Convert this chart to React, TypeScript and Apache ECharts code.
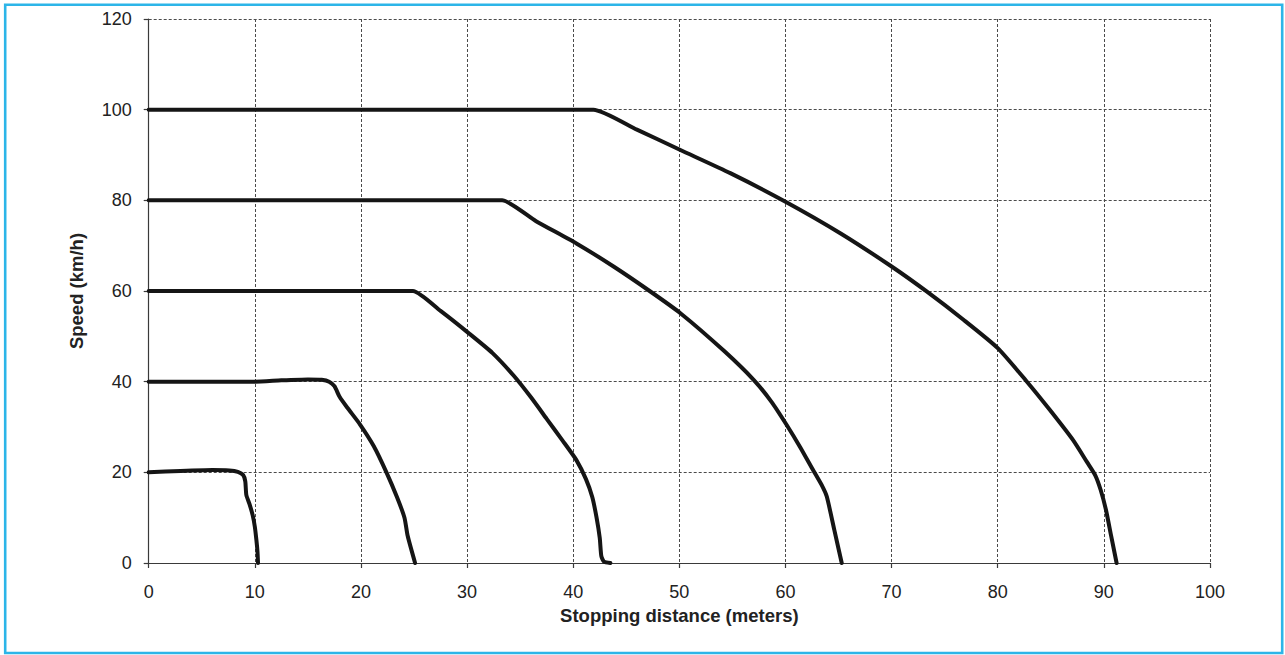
import React, { useEffect, useRef } from "react";
import * as echarts from "echarts";

const xTicks = { min: 0, max: 100, interval: 10 };
const yTicks = { min: 0, max: 120, interval: 20 };

const curve20: [number, number][] = [
  [0, 20], [3, 20.3], [6, 20.5], [7.6, 20.4], [8.4, 20.1], [8.9, 19.4], [9.1, 18],
  [9.2, 15], [9.5, 13], [9.8, 10.5], [10.0, 8], [10.15, 5], [10.25, 2.5], [10.3, 0],
];
const curve40: [number, number][] = [
  [0, 40], [10, 40], [12.5, 40.3], [15, 40.5], [16.3, 40.4], [17.0, 40.0], [17.5, 39.0],
  [18.0, 36.6], [18.7, 34.3], [19.9, 30.6], [21.2, 25.8], [22.4, 20.0],
  [23.4, 14.5], [24.1, 10], [24.4, 6], [25.1, 0],
];
const curve60: [number, number][] = [
  [0, 60], [24.2, 60], [24.9, 60], [27.5, 55.6], [30.2, 50.6], [32.4, 46.3], [34.4, 41.3],
  [36, 36.6], [37.5, 31.8], [39, 27.0], [40.3, 22.7], [41.2, 18.5], [41.8, 14.5],
  [42.2, 10], [42.5, 5.5], [42.65, 1.5], [42.9, 0.3], [43.5, 0],
];
const curve80: [number, number][] = [
  [0, 80], [32.6, 80], [33.3, 80], [36.5, 75.4], [40.3, 70.5], [43.8, 65.4], [47.2, 60],
  [50.1, 55.1], [54.2, 46.8], [57, 40.4], [58.7, 35.5], [60.1, 30.5], [61.4, 25.5],
  [62.6, 20.5], [63.5, 16.8], [63.9, 14.6], [64.6, 7.3], [65.3, 0],
];
const curve100: [number, number][] = [
  [0, 100], [41.2, 100], [41.9, 100], [46, 95.6], [50.1, 91.1], [54.8, 86.0], [60, 79.7],
  [65.2, 72.7], [70, 65.4], [73.3, 59.9], [76.8, 53.6], [80, 47.4], [82.75, 40],
  [84.9, 33.8], [87.1, 27.1], [88.4, 22.3], [89.2, 19.3], [89.7, 16.1],
  [90.2, 11.7], [90.7, 5.8], [91.2, 0],
];

const curves = [curve20, curve40, curve60, curve80, curve100];
const curveNames = ["20 km/h", "40 km/h", "60 km/h", "80 km/h", "100 km/h"];

const xTitle = "Stopping distance (meters)";
const yTitle = "Speed (km/h)";

const FONT = "'Liberation Sans', Arial, Helvetica, sans-serif";

export default function App() {
  const ref = useRef<HTMLDivElement>(null);

  useEffect(() => {
    if (!ref.current) return;
    const chart = echarts.init(ref.current, null, { renderer: "svg" });
    const axisCommon = {
      type: "value" as const,
      axisLine: { show: true, lineStyle: { color: "#3a3a3a", width: 1.2 } },
      axisTick: { show: true, length: 5, lineStyle: { color: "#3a3a3a", width: 1.2 } },
      splitLine: {
        show: true,
        lineStyle: { color: "#4a4a4a", width: 1, type: [3, 2] as number[] },
      },
      axisLabel: { color: "#222", fontSize: 18, fontFamily: FONT },
      nameTextStyle: { color: "#222", fontSize: 18.5, fontWeight: "bold" as const, fontFamily: FONT },
      nameLocation: "middle" as const,
    };
    chart.setOption({
      animation: false,
      backgroundColor: "#ffffff",
      textStyle: { fontFamily: FONT },
      grid: { left: 148.7, top: 19, right: 75, bottom: 92, containLabel: false },
      xAxis: {
        ...axisCommon,
        min: xTicks.min,
        max: xTicks.max,
        interval: xTicks.interval,
        name: xTitle,
        nameGap: 35,
        axisLabel: { ...axisCommon.axisLabel, margin: 20 },
      },
      yAxis: {
        ...axisCommon,
        min: yTicks.min,
        max: yTicks.max,
        interval: yTicks.interval,
        name: yTitle,
        nameGap: 63,
        axisLabel: { ...axisCommon.axisLabel, margin: 17 },
      },
      graphic: [
        {
          type: "rect",
          shape: { x: 5.2, y: 4.7, width: 1277, height: 648.3 },
          style: { fill: "none", stroke: "#2cb5e8", lineWidth: 2.6 },
          silent: true,
        },
      ],
      series: curves.map((data, i) => ({
        type: "line",
        name: curveNames[i],
        data,
        showSymbol: false,
        symbol: "none",
        smooth: 0.2,
        lineStyle: { color: "#151515", width: 4, join: "round", cap: "round" },
        z: 3,
      })),
    });
    return () => chart.dispose();
  }, []);

  return (
    <div
      style={{ position: "fixed", left: 0, top: 0, width: 1285, height: 655, background: "#fff" }}
    >
      <div ref={ref} style={{ width: 1285, height: 655 }} />
    </div>
  );
}
